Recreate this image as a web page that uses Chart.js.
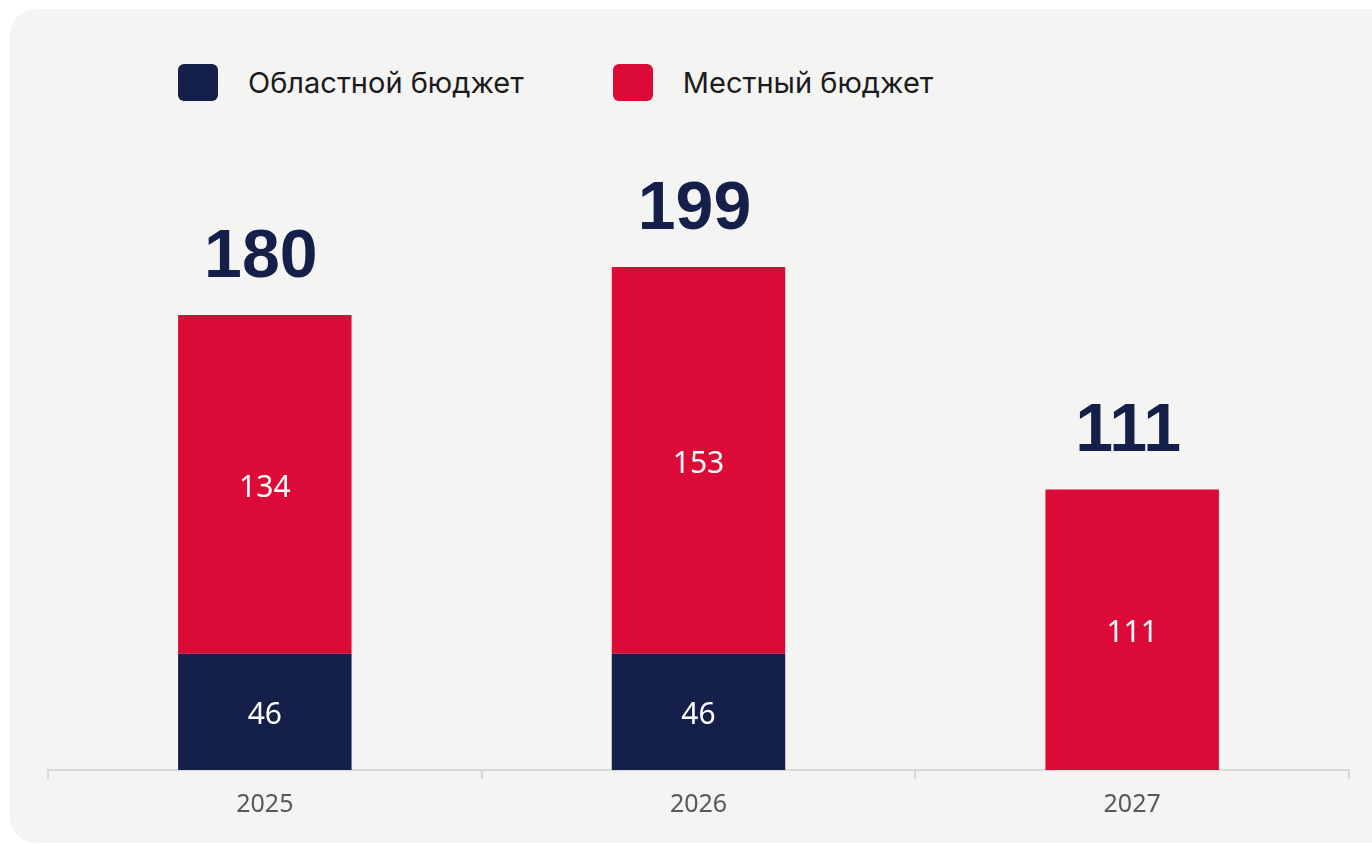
<!DOCTYPE html>
<html lang="ru">
<head>
    <meta charset="UTF-8">
    <title>Бюджет</title>
    <script src="https://cdn.jsdelivr.net/npm/chart.js"></script>
    <style>
        html, body { margin: 0; padding: 0; background: #ffffff; overflow: hidden; }
        .panel {
            position: absolute; left: 10px; top: 9px; width: 1390px; height: 834px;
            background: #f4f4f3; border-radius: 26px;
        }
        .legend { position: absolute; top: 64px; left: 178px; display: flex; align-items: center;
                  font-family: Inter, sans-serif; font-size: 29px; color: #1b1b1b; }
        .legend .item { display: flex; align-items: center; margin-right: 89px; }
        .legend .box { width: 40px; height: 37px; border-radius: 6px; margin-right: 30px; }
        #wrap { position: absolute; left: 0; top: 0; width: 1372px; height: 846px; }
    </style>
</head>
<body>
    <div class="panel"></div>
    <div class="legend" id="legend"></div>
    <div id="wrap"><canvas id="myChart"></canvas></div>
    <script>
        const years = ['2025', '2026', '2027'];
        const oblast = [46, 46, null];
        const local = [134, 153, 111];
        const totals = [180, 199, 111];

        const navy = '#141f4a';
        const red = '#dc0a36';

        // legend above the chart
        const legendItems = [
            { label: 'Областной бюджет', color: navy },
            { label: 'Местный бюджет', color: red }
        ];
        document.getElementById('legend').innerHTML = legendItems.map(function (it) {
            return '<div class="item"><div class="box" style="background:' + it.color + '"></div>' + it.label + '</div>';
        }).join('');

        // values inside segments and totals above the columns
        const barLabels = {
            id: 'barLabels',
            afterDatasetsDraw(chart) {
                const ctx = chart.ctx;
                ctx.save();
                ctx.textAlign = 'center';
                ctx.textBaseline = 'middle';
                ctx.fillStyle = '#ffffff';
                ctx.font = '30px "Noto Sans"';
                chart.data.datasets.forEach(function (ds, i) {
                    chart.getDatasetMeta(i).data.forEach(function (bar, j) {
                        const v = ds.data[j];
                        if (!v) return;
                        ctx.fillText(v, bar.x, (bar.y + bar.base) / 2 + 4);
                    });
                });
                const top = chart.getDatasetMeta(1).data;
                ctx.fillStyle = navy;
                ctx.font = 'bold 68px "Liberation Sans"';
                ctx.textBaseline = 'alphabetic';
                totals.forEach(function (t, j) {
                    ctx.fillText(t, top[j].x - 4, chart.scales.y.getPixelForValue(t) - 38);
                });
                ctx.restore();
            }
        };

        const ctx = document.getElementById('myChart').getContext('2d');
        const myChart = new Chart(ctx, {
            type: 'bar',
            data: {
                labels: years,
                datasets: [
                    { label: 'Областной бюджет', data: oblast, backgroundColor: navy },
                    { label: 'Местный бюджет', data: local, backgroundColor: red }
                ]
            },
            options: {
                responsive: true,
                maintainAspectRatio: false,
                animation: false,
                categoryPercentage: 1,
                barPercentage: 0.4,
                layout: { padding: { left: 48, right: 23, top: 138, bottom: 15 } },
                plugins: { legend: { display: false }, tooltip: { enabled: false } },
                scales: {
                    x: {
                        stacked: true,
                        grid: { offset: true, drawOnChartArea: false, drawTicks: true, tickLength: 9, color: '#d9d9d9', lineWidth: 2 },
                        border: { display: true, color: '#d9d9d9', width: 2 },
                        ticks: { color: '#595959', font: { family: 'Noto Sans', size: 25 }, padding: 11 }
                    },
                    y: {
                        stacked: true,
                        display: false,
                        min: 0,
                        max: 250
                    }
                }
            },
            plugins: [barLabels]
        });
    </script>
</body>
</html>
